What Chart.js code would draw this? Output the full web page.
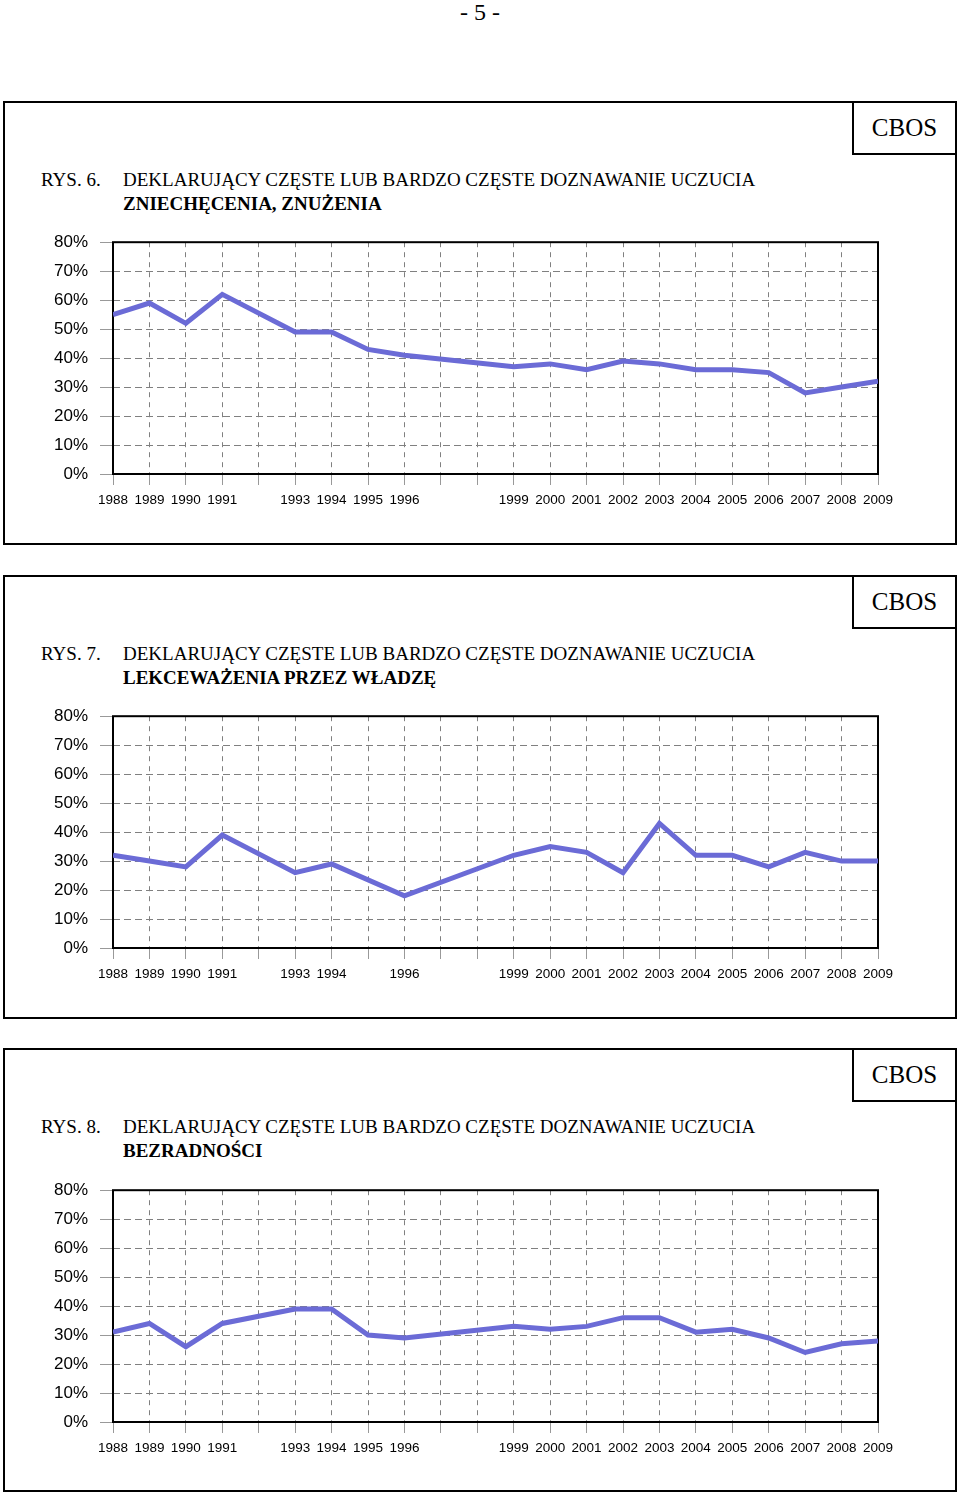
<!DOCTYPE html>
<html>
<head>
<meta charset="utf-8">
<script src="https://cdn.jsdelivr.net/npm/chart.js@4.4.1/dist/chart.umd.min.js"></script>
<style>
  body { margin: 0; background: #fff; }
  #page { position: relative; width: 960px; height: 1496px; overflow: hidden; font-family: "Liberation Serif", "Times New Roman", serif; color: #000; }
  .pagenum { position: absolute; left: 0; top: 0; width: 960px; text-align: center; font-size: 24px; line-height: 24px; }
  .panel { position: absolute; left: 3px; width: 954px; height: 444px; border: 2px solid #000; box-sizing: border-box; }
  .cbos { position: absolute; right: -2px; top: -2px; width: 105px; height: 54px; border: 2px solid #000; box-sizing: border-box; font-size: 25px; line-height: 50px; text-align: center; }
  .rys { position: absolute; left: 36px; top: 65px; font-size: 19px; line-height: 24px; white-space: nowrap; }
  .title { position: absolute; left: 118px; top: 65px; font-size: 19px; line-height: 24px; white-space: nowrap; }
  canvas { position: absolute; left: 0; }
</style>
</head>
<body>
<div id="page">
  <div class="pagenum">- 5 -</div>

  <div class="panel" style="top:101px">
    <div class="cbos">CBOS</div>
    <div class="rys">RYS. 6.</div>
    <div class="title">DEKLARUJĄCY CZĘSTE LUB BARDZO CZĘSTE DOZNAWANIE UCZUCIA<br><b>ZNIECHĘCENIA, ZNUŻENIA</b></div>
  </div>
  <canvas id="chart6" width="960" height="300" style="top:220px"></canvas>

  <div class="panel" style="top:575px">
    <div class="cbos">CBOS</div>
    <div class="rys">RYS. 7.</div>
    <div class="title">DEKLARUJĄCY CZĘSTE LUB BARDZO CZĘSTE DOZNAWANIE UCZUCIA<br><b>LEKCEWAŻENIA PRZEZ WŁADZĘ</b></div>
  </div>
  <canvas id="chart7" width="960" height="300" style="top:694px"></canvas>

  <div class="panel" style="top:1048px">
    <div class="cbos">CBOS</div>
    <div class="rys">RYS. 8.</div>
    <div class="title">DEKLARUJĄCY CZĘSTE LUB BARDZO CZĘSTE DOZNAWANIE UCZUCIA<br><b>BEZRADNOŚCI</b></div>
  </div>
  <canvas id="chart8" width="960" height="300" style="top:1168px"></canvas>
</div>

<script>
// lata badań (bez 1992, 1997, 1998)
var years = [1988, 1989, 1990, 1991, 1993, 1994, 1995, 1996, 1999, 2000, 2001, 2002, 2003, 2004, 2005, 2006, 2007, 2008, 2009];
// rys. 7 nie ma pomiaru w 1995
var yearsRys7 = [1988, 1989, 1990, 1991, 1993, 1994, 1996, 1999, 2000, 2001, 2002, 2003, 2004, 2005, 2006, 2007, 2008, 2009];

var zniechecenie = [55, 59, 52, 62, 49, 49, 43, 41, 37, 38, 36, 39, 38, 36, 36, 35, 28, 30, 32];
var lekcewazenie = [32, 30, 28, 39, 26, 29, 18, 32, 35, 33, 26, 43, 32, 32, 28, 33, 30, 30];
var bezradnosc   = [31, 34, 26, 34, 39, 39, 30, 29, 33, 32, 33, 36, 36, 31, 32, 29, 24, 27, 28];

var yearMin = 1988, yearMax = 2009;
var yTicks = [0, 10, 20, 30, 40, 50, 60, 70, 80];

var lineColor = '#6b6bd6';
var gridColor = '#808080';

var framePlugin = {
  id: 'frame',
  beforeDatasetsDraw: function (chart) {
    var a = chart.chartArea;
    var ctx = chart.ctx;
    ctx.save();
    ctx.strokeStyle = '#000';
    ctx.lineWidth = 2;
    ctx.strokeRect(a.left, a.top, a.right - a.left, a.bottom - a.top);
    ctx.restore();
  }
};

function makeChart(id, xs, values) {
  var points = [];
  for (var i = 0; i < xs.length; i++) {
    points.push({ x: xs[i], y: values[i] });
  }

  return new Chart(document.getElementById(id), {
    type: 'line',
    data: {
      datasets: [{
        data: points,
        borderColor: lineColor,
        borderWidth: 5,
        tension: 0,
        pointRadius: 0,
        fill: false
      }]
    },
    options: {
      responsive: false,
      animation: false,
      devicePixelRatio: 1,
      layout: { padding: { top: 21, right: 82, left: 0, bottom: 0 } },
      plugins: { legend: { display: false }, tooltip: { enabled: false } },
      scales: {
        x: {
          type: 'linear',
          min: yearMin,
          max: yearMax,
          afterFit: function (s) { s.height = 46; },
          ticks: {
            stepSize: 1,
            autoSkip: false,
            maxRotation: 0,
            padding: 7,
            color: '#000',
            font: { family: 'Liberation Sans, Arial, sans-serif', size: 13.5 },
            callback: function (v) { return xs.indexOf(v) >= 0 ? String(v) : ''; }
          },
          grid: {
            color: gridColor,
            lineWidth: 1,
            tickLength: 11,
            tickColor: '#999',
            tickWidth: 1
          },
          border: { display: false, dash: [5, 5] }
        },
        y: {
          min: 0,
          max: 80,
          afterFit: function (s) { s.width = 113; },
          afterBuildTicks: function (s) {
            s.ticks = yTicks.map(function (v) { return { value: v }; });
          },
          ticks: {
            padding: 12,
            color: '#000',
            font: { family: 'Liberation Sans, Arial, sans-serif', size: 17 },
            callback: function (v) { return v + '%'; }
          },
          grid: {
            color: gridColor,
            lineWidth: 1,
            tickLength: 13,
            tickColor: '#999',
            tickWidth: 1
          },
          border: { display: false, dash: [7, 4] }
        }
      }
    },
    plugins: [framePlugin]
  });
}

makeChart('chart6', years, zniechecenie);
makeChart('chart7', yearsRys7, lekcewazenie);
makeChart('chart8', years, bezradnosc);
</script>
</body>
</html>
